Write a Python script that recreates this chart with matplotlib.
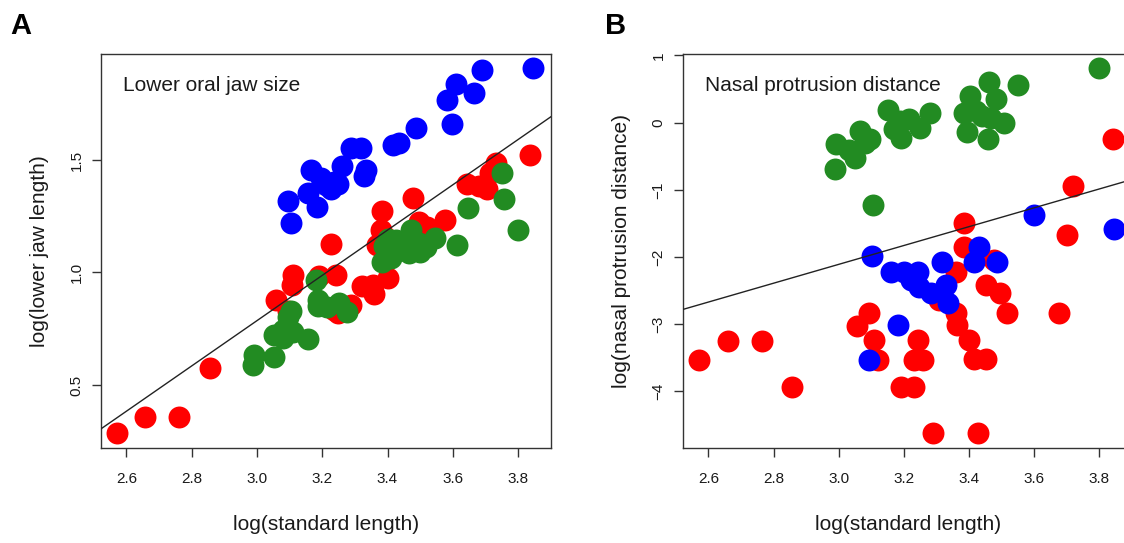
import matplotlib
matplotlib.use("Agg")
import matplotlib.pyplot as plt

plt.rcParams['font.family'] = ['Liberation Sans', 'DejaVu Sans']

# ---------------- Panel A: lower oral jaw size ----------------
a_red_x = [2.570, 2.658, 2.760, 2.857, 3.057, 3.094, 3.108, 3.109, 3.191, 3.226,
           3.242, 3.247, 3.287, 3.323, 3.359, 3.400, 3.355, 3.369, 3.379, 3.384,
           3.400, 3.478, 3.496, 3.520, 3.576, 3.644, 3.680, 3.705, 3.715, 3.733,
           3.837, 3.237]
a_red_y = [0.287, 0.359, 0.359, 0.577, 0.878, 0.830, 0.944, 0.989, 0.985, 1.125,
           0.989, 0.819, 0.856, 0.939, 0.906, 0.974, 0.945, 1.121, 1.189, 1.272,
           1.150, 1.329, 1.224, 1.200, 1.235, 1.394, 1.384, 1.370, 1.444, 1.488,
           1.521, 0.835]

a_green_x = [2.988, 2.992, 3.053, 3.155, 3.053, 3.079, 3.094, 3.104, 3.079, 3.110,
             3.182, 3.186, 3.186, 3.216, 3.252, 3.277, 3.384, 3.389, 3.400, 3.410,
             3.410, 3.425, 3.435, 3.440, 3.466, 3.471, 3.496, 3.500, 3.517, 3.547,
             3.613, 3.648, 3.751, 3.756, 3.799]
a_green_y = [0.589, 0.633, 0.623, 0.703, 0.722, 0.744, 0.804, 0.829, 0.708, 0.735,
             0.967, 0.878, 0.850, 0.848, 0.863, 0.826, 1.048, 1.118, 1.150, 1.063,
             1.100, 1.144, 1.137, 1.100, 1.085, 1.189, 1.130, 1.090, 1.115, 1.155,
             1.124, 1.286, 1.444, 1.328, 1.187]

a_blue_x = [3.096, 3.104, 3.166, 3.155, 3.184, 3.196, 3.210, 3.226, 3.247, 3.262,
            3.287, 3.320, 3.333, 3.327, 3.418, 3.435, 3.486, 3.583, 3.598, 3.611,
            3.664, 3.690, 3.846, 3.235]
a_blue_y = [1.318, 1.218, 1.455, 1.353, 1.290, 1.420, 1.390, 1.370, 1.392, 1.473,
            1.555, 1.555, 1.455, 1.430, 1.568, 1.577, 1.640, 1.765, 1.662, 1.836,
            1.798, 1.899, 1.908, 1.400]

a_fit = (-2.232, 1.006)   # intercept, slope of the drawn regression line

# ---------------- Panel B: nasal protrusion distance ----------------
b_red_x = [2.572, 2.661, 2.763, 2.858, 3.056, 3.094, 3.107, 3.120, 3.191, 3.232,
           3.242, 3.231, 3.257, 3.288, 3.426, 3.308, 3.359, 3.364, 3.400, 3.415,
           3.451, 3.383, 3.385, 3.359, 3.451, 3.495, 3.517, 3.476, 3.675, 3.701,
           3.718, 3.840]
b_red_y = [-3.531, -3.244, -3.244, -3.929, -3.021, -2.837, -3.234, -3.531, -3.929, -3.929,
           -3.234, -3.531, -3.531, -4.622, -4.622, -2.640, -2.837, -3.010, -3.234, -3.521,
           -3.521, -1.488, -1.845, -2.217, -2.415, -2.539, -2.837, -2.043, -2.837, -1.671,
           -0.942, -0.240]

b_green_x = [3.799, 3.549, 3.460, 3.483, 3.403, 3.384, 3.421, 3.508, 3.394, 3.458,
             3.467, 3.440, 3.279, 3.151, 3.187, 3.217, 3.248, 3.192, 3.170, 3.064,
             3.095, 3.080, 2.993, 3.049, 2.988, 3.105, 3.030]
b_green_y = [0.810, 0.561, 0.606, 0.348, 0.397, 0.149, 0.174, 0.000, -0.138, -0.247,
             0.075, 0.100, 0.149, 0.189, 0.025, 0.050, -0.074, -0.223, -0.100, -0.124,
             -0.247, -0.300, -0.322, -0.521, -0.694, -1.225, -0.400]

b_blue_x = [3.101, 3.160, 3.201, 3.242, 3.221, 3.247, 3.283, 3.329, 3.334, 3.318,
            3.430, 3.415, 3.487, 3.599, 3.844, 3.183, 3.094]
b_blue_y = [-1.984, -2.217, -2.217, -2.217, -2.341, -2.440, -2.539, -2.415, -2.679, -2.068,
            -1.845, -2.068, -2.068, -1.374, -1.587, -3.010, -3.531]

b_fit = (-6.317, 1.403)

x_ticks = [2.6, 2.8, 3.0, 3.2, 3.4, 3.6, 3.8]
x_tick_labels = ["2.6", "2.8", "3.0", "3.2", "3.4", "3.6", "3.8"]
a_y_ticks = [0.5, 1.0, 1.5]
a_y_tick_labels = ["0.5", "1.0", "1.5"]
b_y_ticks = [-4, -3, -2, -1, 0, 1]
b_y_tick_labels = ["\u22124", "\u22123", "\u22122", "\u22121", "0", "1"]

RED = "#FF0000"
GREEN = "#228B22"
BLUE = "#0000FF"
MS = 15.8

W, H = 1124, 543
fig = plt.figure(figsize=(W / 100, H / 100), dpi=100)
axA = fig.add_axes([101 / W, (H - 448) / H, 450 / W, 394 / H])
axB = fig.add_axes([683 / W, (H - 448) / H, 449.4 / W, 394 / H])


def style(ax, yticks, ylabels, ylabel, title):
    ax.set_xlim(2.522, 3.901)
    ax.set_xticks(x_ticks)
    ax.set_xticklabels(x_tick_labels)
    ax.set_yticks(yticks)
    ax.set_yticklabels(ylabels, rotation=90, va="center")
    for s in ax.spines.values():
        s.set_linewidth(1.0)
        s.set_color("#333333")
    ax.tick_params(direction="out", length=6.5, width=1.0, color="#333333",
                   labelsize=11, labelcolor="#1a1a1a")
    ax.tick_params(axis="x", pad=11)
    ax.tick_params(axis="y", pad=6)
    ax.set_xlabel("log(standard length)", fontsize=15, color="#1a1a1a", labelpad=21)
    ax.set_ylabel(ylabel, fontsize=15, color="#1a1a1a", labelpad=15)
    ax.text(0.049, 0.921, title, transform=ax.transAxes, fontsize=15,
            color="#1a1a1a", ha="left", va="center")


# Panel A
axA.plot(a_red_x, a_red_y, "o", ms=MS, color=RED, mec="none", zorder=2)
axA.plot(a_green_x, a_green_y, "o", ms=MS, color=GREEN, mec="none", zorder=3)
axA.plot(a_blue_x, a_blue_y, "o", ms=MS, color=BLUE, mec="none", zorder=4)
axA.axline((0, a_fit[0]), slope=a_fit[1], color="#222222", lw=1.0, zorder=5)
axA.set_ylim(0.22, 1.971)
style(axA, a_y_ticks, a_y_tick_labels, "log(lower jaw length)", "Lower oral jaw size")

# Panel B
axB.plot(b_red_x, b_red_y, "o", ms=MS, color=RED, mec="none", zorder=2)
axB.plot(b_green_x, b_green_y, "o", ms=MS, color=GREEN, mec="none", zorder=3)
axB.plot(b_blue_x, b_blue_y, "o", ms=MS, color=BLUE, mec="none", zorder=4)
axB.axline((0, b_fit[0]), slope=b_fit[1], color="#222222", lw=1.0, zorder=5)
axB.set_ylim(-4.841, 1.022)
style(axB, b_y_ticks, b_y_tick_labels, "log(nasal protrusion distance)", "Nasal protrusion distance")

fig.text(10 / W, 1 - 26 / H, "A", fontsize=21, fontweight="bold", ha="left", va="center")
fig.text(605 / W, 1 - 26 / H, "B", fontsize=21, fontweight="bold", ha="left", va="center")

fig.savefig("out.png", dpi=100)
